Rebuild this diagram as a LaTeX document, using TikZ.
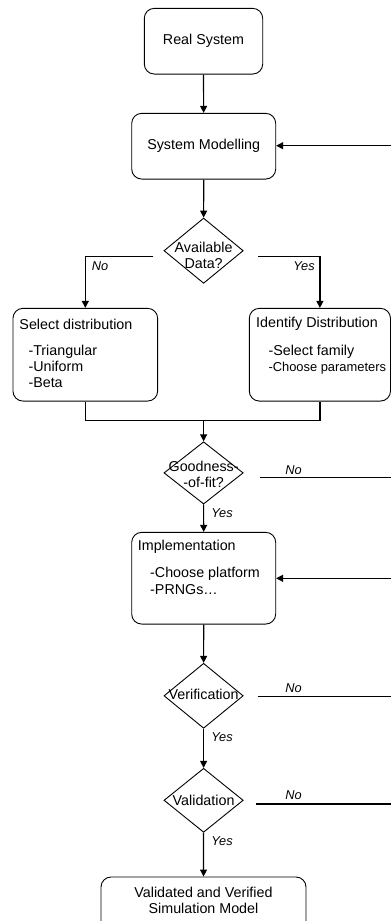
\documentclass[tikz,border=0pt]{standalone}
\usepackage{fontspec}
\setmainfont{Liberation Sans}
\usetikzlibrary{shapes.geometric,arrows.meta}

\tikzset{
  stepbox/.style={draw, rounded corners=10pt, line width=0.9pt, inner sep=0pt},
  decision/.style={draw, diamond, inner sep=0pt, line width=0.9pt,
                   minimum width=79.3pt, minimum height=65pt},
  txt/.style={font=\fontsize{14.3}{16.3}\selectfont, inner sep=0pt, align=left},
  ctxt/.style={font=\fontsize{14.3}{15.5}\selectfont, inner sep=0pt, align=center},
  branch/.style={font=\fontsize{12.8}{14}\selectfont\itshape, inner sep=0pt},
  link/.style={line width=1.2pt},
  flow/.style={link, -{Triangle[length=7pt,width=7pt]}}
}

\begin{document}
\begin{tikzpicture}[x=1pt,y=-1pt]
\useasboundingbox (0,0) rectangle (391,921);
\clip (0,0) rectangle (391,921);

% main boxes
\node[stepbox, minimum width=118.4pt, minimum height=65.7pt,
      font=\fontsize{14.3}{16.3}\selectfont] (real) at (203.5,41.2) {Real System};
\node[stepbox, minimum width=144pt, minimum height=65.7pt,
      font=\fontsize{14.3}{16.3}\selectfont] (model) at (203.7,146.2) {System Modelling};

% data availability decision
\node[decision, minimum height=65.3pt] (avail) at (203.6,250.7) {};
\node[ctxt] (availT) at (203.6,255.5) {Available\\Data?};

% distribution boxes
\node[stepbox, minimum width=144.7pt, minimum height=92.7pt] (seldist) at (85.3,354.7) {};
\node[txt, anchor=west] (seldistH) at (19.3,324) {Select distribution};
\node[txt, anchor=west] (seldistL) at (28.3,366.3) {-Triangular\\-Uniform\\-Beta};

\node[stepbox, minimum width=141.2pt, minimum height=92.7pt] (identd) at (319.9,354.7) {};
\node[txt, anchor=west] (identdH) at (256,324) {Identify Distribution};
\node[txt, anchor=base west] (identdL1) at (268.3,355) {-Select family};
\node[txt, anchor=base west, font=\fontsize{12.9}{15}\selectfont] (identdL2) at (268.3,371.2) {-Choose parameters};

% goodness-of-fit decision
\node[decision, minimum height=62.3pt] (gof) at (203.6,472.9) {};
\node[ctxt] (gofT) at (203.6,474.2) {Goodness-\\-of-fit?};

% implementation box
\node[stepbox, minimum width=144pt, minimum height=91.7pt] (impl) at (203.7,578.2) {};
\node[txt, anchor=west] (implH) at (137.7,546.7) {Implementation};
\node[txt, anchor=west] (implL) at (150,580.8) {-Choose platform\\-PRNGs…};

% verification and validation decisions
\node[decision] (verif) at (203.6,695.8) {};
\node[ctxt] (verifT) at (203.6,694.5) {Verification};
\node[decision, minimum height=64pt] (valid) at (203.6,800.3) {};
\node[ctxt] (validT) at (203.6,800.3) {Validation};

% final model
\node[stepbox, minimum width=205pt, minimum height=66pt] (final) at (203.5,910) {};
\node[ctxt] (finalT) at (203.5,900.5) {Validated and Verified\\Simulation Model};

% free ends of the branch lines
\coordinate (availL) at (153.3,256.7);
\coordinate (availR) at (258.3,256.7);
\coordinate (merge) at (203.6,420.5);
\coordinate (gofNo) at (260,477.3);
\coordinate (gofEdge) at (391,477.3);
\coordinate (verifNo) at (257.7,696.7);
\coordinate (verifEdge) at (391,696.7);
\coordinate (validNo) at (256,804);
\coordinate (validEdge) at (391,804);
\coordinate (backModel) at (391,145.7);
\coordinate (backImpl) at (391,578.3);

% main flow
\draw[flow] (real) -- (model);
\draw[flow] (model) -- (avail);
\draw[flow] (availL) -| (seldist.north);
\draw[flow] (availR) -| (identd.north);
\draw[link] (seldist.south) |- (merge);
\draw[link] (identd.south) |- (merge);
\draw[flow] (merge) -- (gof.north);
\draw[flow] (gof) -- (impl);
\draw[flow] (impl) -- (verif);
\draw[flow] (verif) -- (valid);
\draw[flow] (valid) -- (final);

% rejection lines and feedback
\draw[link] (gofNo) -- (gofEdge);
\draw[link] (verifNo) -- (verifEdge);
\draw[link] (validNo) -- (validEdge);
\draw[flow] (backModel) -- (backModel -| model.east);
\draw[flow] (backImpl) -- (backImpl -| impl.east);

% branch labels
\node[branch] (lNo1) at (100,266) {No};
\node[branch] (lYes1) at (304,266) {Yes};
\node[branch] (lNo2) at (293.5,469.7) {No};
\node[branch] (lYes2) at (222,513) {Yes};
\node[branch] (lNo3) at (293.5,688.3) {No};
\node[branch] (lYes3) at (222,736.7) {Yes};
\node[branch] (lNo4) at (293.5,795) {No};
\node[branch] (lYes4) at (222,840.7) {Yes};
\end{tikzpicture}
\end{document}
